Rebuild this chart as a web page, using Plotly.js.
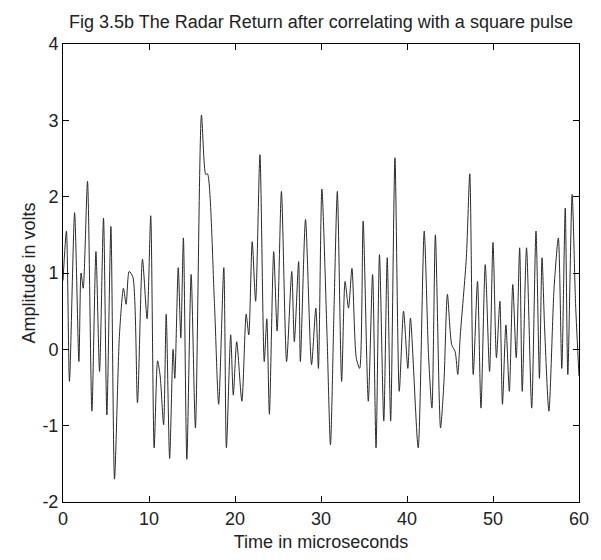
<!DOCTYPE html>
<html>
<head>
<meta charset="utf-8">
<script src="https://cdn.plot.ly/plotly-3.0.1.min.js"></script>
<style>html,body{margin:0;padding:0;background:#fff;}#chart{width:601px;height:560px;}</style>
</head>
<body>
<div id="chart"></div>
<script>
// Time in microseconds
var time = [0.0,0.4,0.75,1.35,1.85,2.1,2.35,2.85,3.36,3.83,4.25,4.71,5.1,5.57,5.99,6.57,7.03,7.34,7.69,8.12,8.66,9.24,9.78,
  10.2,10.6,11.0,11.3,11.7,12.0,12.4,12.8,13.0,13.4,13.7,14.0,14.4,14.9,15.4,16.1,16.6,16.8,17.6,18.1,18.7,19.0,19.5,19.8,
  20.2,20.8,21.3,21.6,22.0,22.4,22.9,23.4,23.7,24.0,24.5,24.9,25.4,26.0,26.6,26.9,27.4,27.6,28.2,28.9,29.4,29.7,
  30.1,30.7,31.1,31.5,31.9,32.4,32.8,33.2,33.6,34.1,34.5,34.9,35.5,36.0,36.4,36.8,37.3,37.7,38.1,38.6,39.1,39.6,
  40.1,40.4,41.3,42.0,42.5,42.9,43.3,43.9,44.3,44.7,45.2,45.6,45.9,46.2,46.9,47.3,47.7,48.2,48.6,49.1,49.6,
  50.0,50.4,50.8,51.1,51.5,51.9,52.3,52.7,53.1,53.4,53.9,54.5,55.0,55.4,55.7,56.0,56.5,57.1,57.6,58.0,58.4,58.7,59.2,59.6,60.0];
// Amplitude in volts
var amplitude = [0.9,1.55,-0.42,1.79,-0.16,1.0,0.8,2.2,-0.81,1.28,-0.29,1.72,-0.86,1.61,-1.7,0.2,0.8,0.59,1.02,0.95,-0.7,1.18,0.4,
  1.75,-1.29,-0.15,-0.35,-0.99,0.46,-1.43,0.0,-0.38,1.07,0.15,1.46,-1.44,0.98,-1.03,3.07,2.29,2.3,0.63,-0.72,1.07,-1.29,0.19,-0.6,
  0.1,-0.68,0.46,0.19,1.41,0.63,2.55,-0.16,0.4,-0.85,1.28,0.24,2.07,-0.16,1.02,0.1,1.15,-0.16,1.70,-0.2,0.54,-0.25,
  2.1,0.19,-1.25,0.46,2.07,-0.42,0.89,0.54,1.06,-0.11,-0.25,1.68,-0.68,0.98,-1.29,1.24,-0.94,1.2,-0.94,2.51,-0.55,0.5,
  -0.25,0.41,-1.29,1.55,-0.07,-0.77,1.5,-1.03,-0.42,0.72,0.06,-0.03,-0.33,0.19,1.2,2.3,-0.33,0.89,-0.77,1.11,-0.29,
  1.4,-0.11,0.63,-0.72,0.32,-0.55,0.85,-0.11,1.33,-0.55,1.33,-0.77,1.55,-0.38,1.2,0.28,-0.81,0.8,1.46,-0.25,1.85,-0.33,2.03,0.6,-0.35];
var xTicks = [0,10,20,30,40,50,60];
var yTicks = [-2,-1,0,1,2,3,4];

var fontFam = '"Liberation Sans", Arial, sans-serif';

var trace = {
  x: time, y: amplitude, type: 'scatter', mode: 'lines',
  line: {color: '#2a2a2a', width: 1, shape: 'spline', smoothing: 0.7}, hoverinfo: 'skip'
};

var axisCommon = {
  showgrid: false, zeroline: false, showline: true, linecolor: '#000', linewidth: 1,
  mirror: 'ticks', ticks: 'inside', ticklen: 6, tickcolor: '#000', tickwidth: 1,
  tickfont: {family: fontFam, size: 18, color: '#222'}
};

var layout = {
  width: 601, height: 560,
  margin: {l: 63, r: 22, t: 44, b: 58},
  paper_bgcolor: '#fff', plot_bgcolor: '#fff',
  showlegend: false,
  title: {text: 'Fig 3.5b The Radar Return after correlating with a square pulse',
    font: {family: fontFam, size: 18, color: '#222'},
    xref: 'paper', x: 0.5, xanchor: 'center', yref: 'container', y: 0.962, yanchor: 'middle'},
  xaxis: Object.assign({}, axisCommon, {
    range: [0, 60], tickvals: xTicks, ticktext: xTicks.map(String),
    title: {text: 'Time in microseconds', font: {family: fontFam, size: 18, color: '#222'}, standoff: 7}
  }),
  yaxis: Object.assign({}, axisCommon, {
    range: [-2, 4], tickvals: yTicks, ticktext: yTicks.map(String), ticklabelstandoff: 0,
    title: {text: 'Amplitude in volts', font: {family: fontFam, size: 18, color: '#222'}, standoff: 2}
  })
};

Plotly.newPlot('chart', [trace], layout, {displayModeBar: false, staticPlot: true});
</script>
</body>
</html>
